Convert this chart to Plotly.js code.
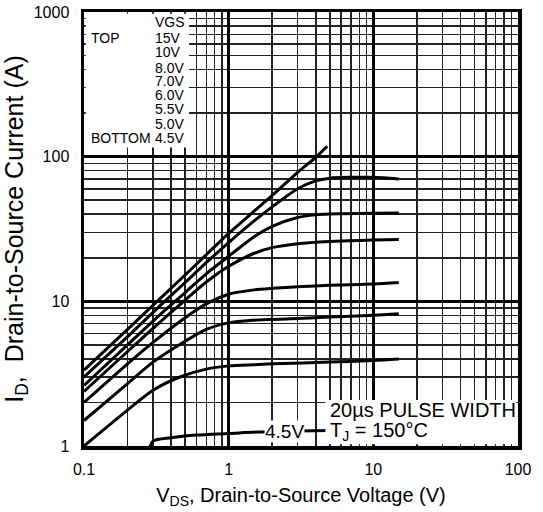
<!DOCTYPE html>
<html>
<head>
<meta charset="utf-8">
<script src="https://cdn.plot.ly/plotly-3.0.1.min.js"></script>
<style>html,body{margin:0;padding:0;background:#fff;}#chart{width:543px;height:512px;}</style>
</head>
<body>
<div id="chart"></div>
<script>
// VGS curves: drain-source voltage (V) and drain current (A)
const v15 = [0.1, 0.2, 0.3, 0.5, 0.7, 1, 1.5, 2, 3, 4, 4.8];
const i15 = [3.35, 6.4, 9.4, 15.2, 21, 29.5, 42, 54, 78, 99, 118];
const v10 = [0.1, 0.2, 0.3, 0.5, 0.7, 1, 1.5, 2, 3, 4, 5, 7, 10, 15];
const i10 = [3.0, 5.7, 8.4, 13.5, 18.5, 25.5, 36, 45, 60, 68, 71, 72, 72, 70];
const v8 = [0.1, 0.2, 0.3, 0.5, 0.7, 1, 1.5, 2, 3, 4, 6, 10, 15];
const i8 = [2.62, 5.0, 7.3, 11.5, 15.5, 20.5, 28, 33, 38, 39.6, 40.3, 40.7, 40.8];
const v7 = [0.1, 0.2, 0.3, 0.5, 0.7, 1, 1.5, 2, 3, 5, 10, 15];
const i7 = [2.38, 4.5, 6.5, 10.2, 13.6, 17.5, 21.5, 23.5, 25, 25.9, 26.5, 26.8];
const v6 = [0.1, 0.2, 0.3, 0.5, 0.7, 1, 1.5, 2, 3, 5, 10, 15];
const i6 = [2.0, 3.7, 5.2, 7.7, 9.6, 11.2, 12.0, 12.3, 12.6, 12.9, 13.2, 13.5];
const v55 = [0.1, 0.2, 0.3, 0.5, 0.7, 1, 1.5, 2, 3, 5, 10, 15];
const i55 = [1.5, 2.7, 3.8, 5.3, 6.4, 7.1, 7.4, 7.5, 7.6, 7.8, 8.0, 8.2];
const v5 = [0.1, 0.2, 0.3, 0.46, 0.7, 1, 1.5, 2, 5, 10, 15];
const i5 = [1.0, 1.77, 2.43, 3.0, 3.4, 3.58, 3.65, 3.7, 3.8, 3.9, 4.0];
const v45 = [0.28, 0.3, 0.4, 0.6, 1, 1.6, 3, 5, 10, 15];
const i45 = [0.92, 1.08, 1.14, 1.19, 1.22, 1.25, 1.27, 1.28, 1.29, 1.3];

const xTickVals = [0.1, 1, 10, 100];
const xTickText = ['0.1', '1', '10', '100'];
const yTickVals = [1, 10, 100, 1000];
const yTickText = ['1', '10', '100', '1000'];
const legendLabels = ['VGS', '15V', '10V', '8.0V', '7.0V', '6.0V', '5.5V', '5.0V', '4.5V'];

function minorVals(lo, hi) {
  const out = [];
  for (let d = lo; d < hi; d *= 10) {
    for (let k = 2; k <= 9; k++) out.push(+(d * k).toPrecision(3));
  }
  return out;
}

const series = [[v15, i15], [v10, i10], [v8, i8], [v7, i7], [v6, i6], [v55, i55], [v5, i5], [v45, i45]];
const traces = series.map(s => ({
  x: s[0], y: s[1], type: 'scatter', mode: 'lines',
  line: {color: '#000', width: 3, shape: 'spline', smoothing: 0.8},
  hoverinfo: 'skip', showlegend: false, cliponaxis: true
}));

const FONT = 'Liberation Sans, Arial, sans-serif';
const legendYs = [0.977, 0.940, 0.907, 0.872, 0.841, 0.809, 0.777, 0.742, 0.710];
const annotations = [];
legendLabels.forEach((t, k) => {
  annotations.push({xref: 'paper', yref: 'paper', x: 0.159, y: legendYs[k], text: t,
    showarrow: false, xanchor: 'left', yanchor: 'middle', font: {family: FONT, size: 14, color: '#000'}});
});
annotations.push({xref: 'paper', yref: 'paper', x: 0.012, y: legendYs[1], text: 'TOP',
  showarrow: false, xanchor: 'left', yanchor: 'middle', font: {family: FONT, size: 14, color: '#000'}});
annotations.push({xref: 'paper', yref: 'paper', x: 0.012, y: legendYs[8], text: 'BOTTOM',
  showarrow: false, xanchor: 'left', yanchor: 'middle', font: {family: FONT, size: 14, color: '#000'}});
annotations.push({xref: 'paper', yref: 'paper', x: 0.563, y: 0.083, text: '20µs PULSE WIDTH',
  showarrow: false, xanchor: 'left', yanchor: 'middle', font: {family: FONT, size: 20, color: '#000'}});
annotations.push({xref: 'paper', yref: 'paper', x: 0.563, y: 0.033, text: 'T<sub>J</sub> = 150°C',
  showarrow: false, xanchor: 'left', yanchor: 'middle', font: {family: FONT, size: 20, color: '#000'}});
annotations.push({xref: 'x', yref: 'y', x: Math.log10(2.45), y: Math.log10(1.25), text: '4.5V',
  showarrow: false, xanchor: 'center', yanchor: 'middle', bgcolor: '#fff', borderpad: 0,
  font: {family: FONT, size: 19, color: '#000'}});

const layout = {
  width: 543, height: 512,
  margin: {l: 84, r: 25, t: 12, b: 66, pad: 0},
  paper_bgcolor: '#fff', plot_bgcolor: '#fff',
  font: {family: FONT, color: '#000'},
  xaxis: {
    type: 'log', range: [-1, 2], tickmode: 'array', tickvals: xTickVals, ticktext: xTickText,
    showgrid: true, gridcolor: '#000', gridwidth: 2.5, ticks: '', zeroline: false,
    showline: true, linecolor: '#000', linewidth: 3.5, mirror: true,
    tickfont: {family: FONT, size: 16, color: '#000'}, ticklabelstandoff: 6,
    minor: {tickvals: minorVals(0.1, 100), showgrid: true, gridcolor: '#222', gridwidth: 1.5, ticks: ''},
    title: {text: 'V<sub>DS</sub>, Drain-to-Source Voltage (V)', font: {family: FONT, size: 20, color: '#000'}, standoff: 12}
  },
  yaxis: {
    type: 'log', range: [0, 3], tickmode: 'array', tickvals: yTickVals, ticktext: yTickText,
    showgrid: true, gridcolor: '#000', gridwidth: 2.5, ticks: '', zeroline: false,
    showline: true, linecolor: '#000', linewidth: 3.5, mirror: true,
    tickfont: {family: FONT, size: 16, color: '#000'}, ticklabelstandoff: 8,
    minor: {tickvals: minorVals(1, 1000), showgrid: true, gridcolor: '#222', gridwidth: 1.5, ticks: ''},
    title: {text: 'I<sub>D</sub>,  Drain-to-Source Current (A)', font: {family: FONT, size: 25, color: '#000'}, standoff: 4}
  },
  shapes: [
    {type: 'rect', xref: 'paper', yref: 'paper', x0: 0.004, x1: 0.242, y0: 0.688, y1: 0.996,
     fillcolor: '#fff', line: {width: 0}, layer: 'above'},
    {type: 'rect', xref: 'paper', yref: 'paper', x0: 0.556, x1: 0.996, y0: 0.004, y1: 0.106,
     fillcolor: '#fff', line: {width: 0}, layer: 'above'}
  ],
  annotations: annotations,
  showlegend: false
};

Plotly.newPlot('chart', traces, layout, {staticPlot: true, displayModeBar: false});
</script>
</body>
</html>
